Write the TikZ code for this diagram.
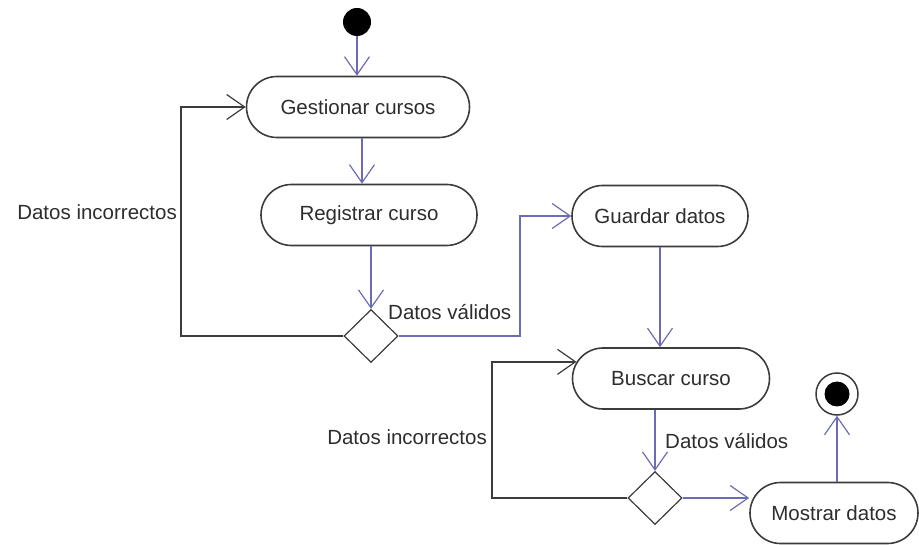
\documentclass[tikz,border=0pt]{standalone}
\usepackage{fontspec}
\setmainfont{Liberation Sans}
\usetikzlibrary{arrows.meta,shapes.misc,shapes.geometric}

\definecolor{flowblue}{RGB}{108,108,182}
\definecolor{edgegray}{RGB}{60,60,60}
\definecolor{textgray}{RGB}{45,45,45}

\begin{document}
\begin{tikzpicture}[x=1pt,y=-1pt,
  font=\fontsize{20.5}{24}\selectfont,
  every node/.style={text=textgray},
  activity/.style={rounded rectangle, draw=edgegray, line width=1.6pt,
    fill=white, inner sep=0pt, minimum height=61pt},
  decision/.style={diamond, draw=edgegray, line width=1.2pt, fill=white,
    inner sep=0pt, minimum width=54pt, minimum height=53pt},
  openarrow/.style={-{Straight Barb[length=18pt,width=25pt,line width=1.2pt]}},
  flow/.style={openarrow, draw=flowblue, line width=1.4pt},
  retry/.style={openarrow, draw=edgegray, line width=1.5pt},
  guard/.style={inner sep=0pt},
]
\useasboundingbox (0,0) rectangle (919,545);

% initial and final states
\node[circle, fill=black, minimum size=28pt, inner sep=0pt] (start) at (357,22) {};
\node[circle, draw=edgegray, line width=1.5pt, fill=white, minimum size=42pt, inner sep=0pt] (final) at (837,394) {};
\node[circle, fill=black, minimum size=25pt, inner sep=0pt] (finalin) at (final) {};

% activities
\node[activity, minimum width=223pt] (gest) at (358,107) {Gestionar cursos};
\node[activity, minimum width=216pt] (reg) at (369,215) {Registrar curso};
\node[activity, minimum width=176pt] (guardar) at (660,216) {Guardar datos};
\node[activity, minimum width=197pt] (busc) at (671,378.5) {Buscar curso};
\node[activity, minimum width=168pt] (most) at (834,513) {Mostrar datos};

% decisions
\node[decision] (d1) at (371,336) {};
\node[decision] (d2) at (655,498) {};

% helper columns for the routed connectors
\coordinate (gx) at (362,0);
\coordinate (l1) at (181,0);
\coordinate (r1) at (520,0);
\coordinate (l2) at (492,0);

% main flow
\draw[flow] (start) -- (start |- gest.north);
\draw[flow] (gest.south -| gx) -- (reg.north -| gx);
\draw[flow] (reg.south -| d1.north) -- (d1.north);
\draw[flow] (d1.east) -- (d1.east -| r1) -- (r1 |- guardar.west) -- (guardar.west);
\draw[flow] (guardar.south) -- (guardar.south |- busc.north);
\draw[flow] (busc.south -| d2.north) -- (d2.north);
\draw[flow] (d2.east) -- (d2.east -| most.west);
\draw[flow] (most.north -| final) -- (final.south);

% retry loops
\draw[retry] (d1.west) -- (d1.west -| l1) -- (l1 |- gest.west) -- (gest.west);
\draw[retry] (d2.west) -- (d2.west -| l2) -- (l2 |- busc.170) -- (busc.170);

% guard labels
\node[guard, anchor=base east] (inc1) at (177,220) {Datos incorrectos};
\node[guard, anchor=base west] (val1) at (388,320) {Datos válidos};
\node[guard, anchor=base east] (inc2) at (487,445) {Datos incorrectos};
\node[guard, anchor=base west] (val2) at (665,448) {Datos válidos};
\end{tikzpicture}
\end{document}
